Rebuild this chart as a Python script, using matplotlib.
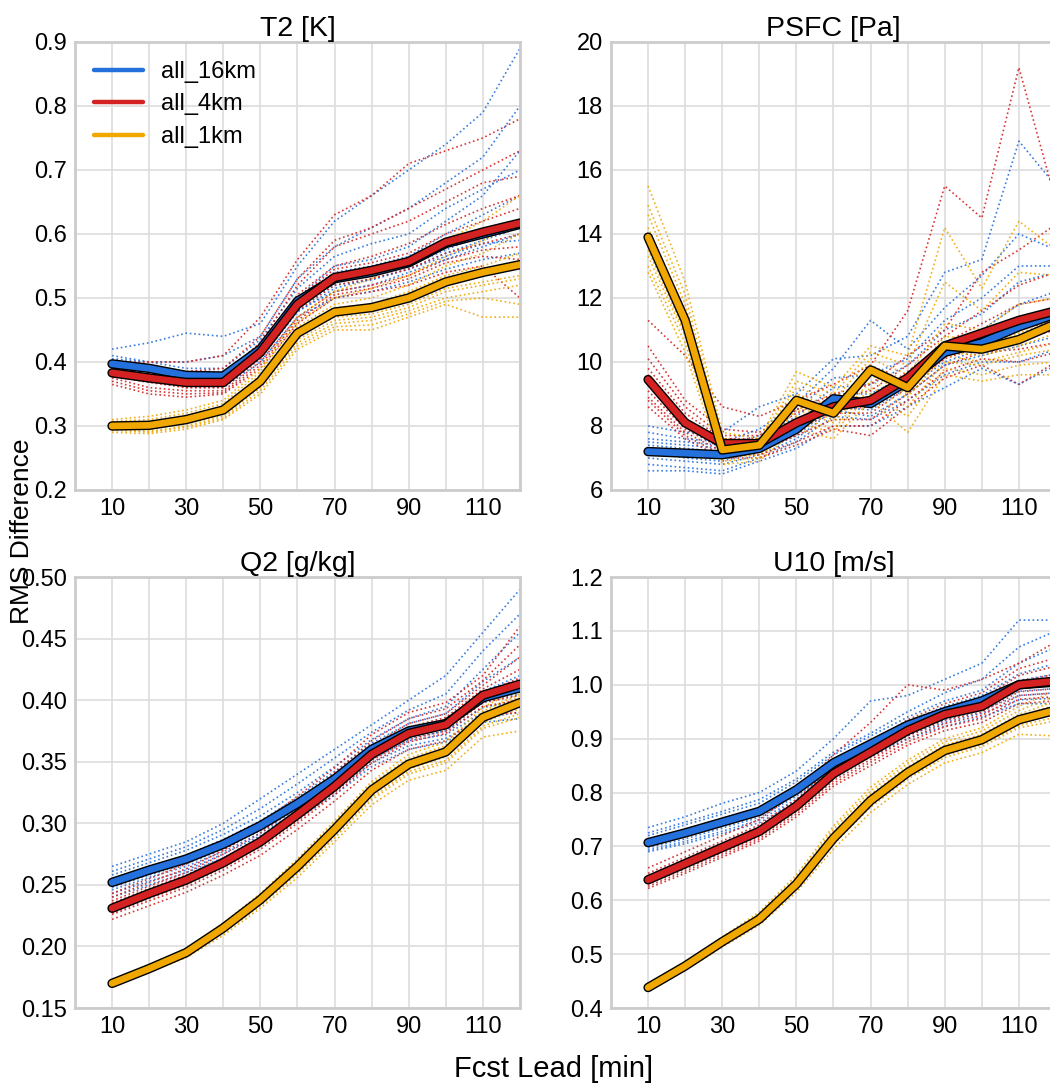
import matplotlib
matplotlib.use("Agg")
import matplotlib.pyplot as plt
import matplotlib.patheffects as pe

plt.rcParams['font.family'] = ['Liberation Sans', 'DejaVu Sans']

lead = [10, 20, 30, 40, 50, 60, 70, 80, 90, 100, 110, 120]
runs = ['all_16km', 'all_4km', 'all_1km']
colors = ['#2470dc', '#d42222', '#f0a800']

# ---- T2 [K] ----
t2_mean_16 = [0.397, 0.390, 0.379, 0.378, 0.420, 0.495, 0.530, 0.540, 0.555, 0.585, 0.600, 0.615]
t2_mean_4 = [0.383, 0.375, 0.368, 0.368, 0.415, 0.490, 0.532, 0.543, 0.557, 0.587, 0.603, 0.617]
t2_mean_1 = [0.300, 0.301, 0.310, 0.325, 0.370, 0.445, 0.478, 0.485, 0.500, 0.525, 0.540, 0.552]
t2_mem_16 = [
    [0.42, 0.43, 0.445, 0.44, 0.46, 0.55, 0.62, 0.66, 0.70, 0.74, 0.79, 0.89],
    [0.41, 0.40, 0.40, 0.41, 0.44, 0.53, 0.58, 0.61, 0.64, 0.68, 0.72, 0.80],
    [0.40, 0.39, 0.38, 0.38, 0.43, 0.50, 0.55, 0.56, 0.58, 0.62, 0.66, 0.73],
    [0.395, 0.385, 0.375, 0.375, 0.415, 0.49, 0.525, 0.535, 0.55, 0.575, 0.60, 0.62],
    [0.39, 0.38, 0.37, 0.37, 0.41, 0.48, 0.51, 0.52, 0.54, 0.56, 0.58, 0.60],
    [0.38, 0.375, 0.365, 0.36, 0.40, 0.47, 0.50, 0.51, 0.525, 0.545, 0.56, 0.57],
    [0.40, 0.395, 0.385, 0.385, 0.425, 0.50, 0.54, 0.55, 0.565, 0.60, 0.63, 0.66],
    [0.385, 0.378, 0.37, 0.368, 0.405, 0.478, 0.515, 0.53, 0.545, 0.57, 0.59, 0.61],
    [0.405, 0.40, 0.39, 0.39, 0.435, 0.515, 0.565, 0.585, 0.60, 0.64, 0.67, 0.70],
    [0.392, 0.385, 0.372, 0.372, 0.412, 0.485, 0.52, 0.528, 0.545, 0.565, 0.585, 0.59],
]
t2_mem_4 = [
    [0.40, 0.40, 0.40, 0.41, 0.47, 0.56, 0.63, 0.66, 0.71, 0.73, 0.75, 0.78],
    [0.39, 0.385, 0.38, 0.38, 0.43, 0.52, 0.58, 0.60, 0.62, 0.65, 0.68, 0.69],
    [0.385, 0.375, 0.37, 0.37, 0.42, 0.50, 0.545, 0.555, 0.57, 0.60, 0.62, 0.64],
    [0.38, 0.37, 0.36, 0.36, 0.41, 0.485, 0.525, 0.535, 0.55, 0.58, 0.60, 0.61],
    [0.375, 0.36, 0.355, 0.355, 0.40, 0.47, 0.51, 0.52, 0.535, 0.56, 0.575, 0.58],
    [0.365, 0.35, 0.345, 0.35, 0.39, 0.46, 0.50, 0.51, 0.52, 0.54, 0.55, 0.50],
    [0.39, 0.38, 0.375, 0.375, 0.425, 0.505, 0.55, 0.565, 0.585, 0.615, 0.64, 0.66],
    [0.378, 0.368, 0.36, 0.36, 0.405, 0.48, 0.52, 0.53, 0.545, 0.57, 0.585, 0.60],
    [0.37, 0.355, 0.35, 0.352, 0.395, 0.465, 0.505, 0.515, 0.53, 0.555, 0.565, 0.56],
    [0.395, 0.39, 0.385, 0.39, 0.44, 0.53, 0.59, 0.61, 0.64, 0.67, 0.70, 0.73],
]
t2_mem_1 = [
    [0.31, 0.315, 0.325, 0.34, 0.39, 0.47, 0.51, 0.53, 0.56, 0.59, 0.62, 0.66],
    [0.305, 0.305, 0.315, 0.33, 0.38, 0.455, 0.49, 0.50, 0.52, 0.55, 0.57, 0.60],
    [0.30, 0.30, 0.31, 0.325, 0.37, 0.445, 0.48, 0.485, 0.50, 0.525, 0.54, 0.555],
    [0.298, 0.298, 0.305, 0.32, 0.365, 0.44, 0.47, 0.475, 0.49, 0.515, 0.525, 0.535],
    [0.295, 0.29, 0.30, 0.315, 0.36, 0.43, 0.46, 0.465, 0.48, 0.50, 0.51, 0.52],
    [0.29, 0.288, 0.295, 0.31, 0.35, 0.42, 0.45, 0.45, 0.47, 0.49, 0.47, 0.47],
    [0.302, 0.302, 0.312, 0.328, 0.375, 0.45, 0.485, 0.49, 0.51, 0.535, 0.55, 0.57],
    [0.297, 0.295, 0.303, 0.318, 0.362, 0.435, 0.465, 0.47, 0.485, 0.51, 0.52, 0.53],
    [0.307, 0.31, 0.32, 0.335, 0.385, 0.462, 0.50, 0.515, 0.535, 0.565, 0.59, 0.62],
    [0.293, 0.292, 0.298, 0.312, 0.355, 0.425, 0.455, 0.458, 0.475, 0.495, 0.50, 0.49],
]

# ---- PSFC [Pa] ----
ps_mean_16 = [7.2, 7.15, 7.1, 7.3, 7.9, 8.85, 8.7, 9.4, 10.3, 10.6, 11.1, 11.5]
ps_mean_4 = [9.45, 8.1, 7.45, 7.45, 8.1, 8.6, 8.8, 9.5, 10.5, 10.9, 11.3, 11.6]
ps_mean_1 = [13.9, 11.3, 7.25, 7.4, 8.8, 8.4, 9.75, 9.2, 10.5, 10.4, 10.7, 11.2]
ps_mem_16 = [
    [6.6, 6.6, 6.5, 6.9, 7.3, 8.0, 8.0, 8.6, 9.2, 9.8, 9.3, 9.9],
    [7.0, 6.9, 6.8, 7.1, 7.6, 8.5, 8.3, 9.0, 9.9, 10.2, 10.5, 10.8],
    [7.3, 7.2, 7.1, 7.3, 7.9, 8.8, 8.7, 9.4, 10.3, 10.7, 11.3, 11.6],
    [7.5, 7.4, 7.3, 7.6, 8.3, 9.2, 9.3, 9.9, 11.0, 11.5, 12.5, 12.8],
    [7.8, 7.6, 7.5, 7.9, 8.7, 9.8, 11.3, 10.4, 11.7, 12.7, 14.0, 13.5],
    [8.0, 7.8, 7.8, 8.6, 9.0, 10.1, 10.2, 10.8, 12.8, 13.2, 16.9, 15.5],
    [7.2, 7.0, 6.9, 7.2, 7.7, 8.6, 8.5, 9.2, 10.0, 10.4, 10.8, 11.2],
    [7.4, 7.3, 7.2, 7.4, 8.1, 9.0, 9.0, 9.6, 10.6, 11.0, 11.8, 12.2],
    [6.8, 6.7, 6.6, 7.0, 7.5, 8.3, 8.2, 8.8, 9.6, 10.0, 10.0, 10.4],
    [7.6, 7.5, 7.4, 7.7, 8.5, 9.5, 9.6, 10.1, 11.3, 12.0, 13.0, 13.0],
]
ps_mem_4 = [
    [11.3, 10.2, 8.6, 8.3, 8.8, 9.3, 9.9, 11.6, 15.5, 14.5, 19.2, 15.0],
    [10.5, 8.8, 7.9, 7.8, 8.5, 9.0, 9.3, 10.2, 11.0, 12.8, 13.5, 14.3],
    [9.8, 8.4, 7.6, 7.6, 8.2, 8.7, 8.9, 9.7, 10.6, 11.2, 11.8, 12.0],
    [9.3, 8.0, 7.4, 7.4, 8.0, 8.5, 8.6, 9.3, 10.3, 10.7, 11.0, 11.3],
    [8.9, 7.8, 7.2, 7.2, 7.7, 8.2, 8.2, 9.0, 9.9, 10.3, 10.4, 10.6],
    [8.6, 7.6, 7.0, 7.0, 7.4, 7.9, 7.7, 8.6, 9.5, 9.9, 9.3, 10.0],
    [9.6, 8.2, 7.5, 7.5, 8.1, 8.6, 8.8, 9.5, 10.5, 11.0, 11.4, 11.7],
    [9.1, 7.9, 7.3, 7.3, 7.9, 8.4, 8.4, 9.2, 10.1, 10.5, 10.7, 11.0],
    [10.1, 8.6, 7.7, 7.7, 8.4, 8.9, 9.1, 9.9, 10.8, 11.6, 12.4, 12.8],
    [8.8, 7.7, 7.1, 7.1, 7.5, 8.0, 8.0, 8.8, 9.7, 10.1, 10.0, 10.3],
]
ps_mem_1 = [
    [15.5, 12.5, 7.8, 7.6, 9.7, 9.2, 10.5, 10.2, 14.2, 12.3, 14.4, 13.5],
    [14.6, 11.8, 7.5, 7.5, 9.2, 8.8, 10.1, 9.6, 11.2, 11.0, 11.8, 12.0],
    [14.0, 11.4, 7.3, 7.4, 8.9, 8.5, 9.8, 9.3, 10.6, 10.5, 10.9, 11.3],
    [13.7, 11.1, 7.2, 7.3, 8.6, 8.2, 9.6, 9.0, 10.3, 10.2, 10.5, 10.9],
    [13.3, 10.8, 7.0, 7.1, 8.3, 7.9, 9.2, 8.6, 10.0, 9.9, 10.2, 10.4],
    [12.8, 10.3, 6.8, 6.9, 7.9, 7.6, 8.8, 7.8, 9.6, 9.4, 9.6, 9.6],
    [14.2, 11.5, 7.4, 7.45, 9.0, 8.6, 9.9, 9.4, 10.8, 10.7, 11.2, 11.6],
    [13.5, 10.9, 7.1, 7.2, 8.5, 8.1, 9.4, 8.9, 10.2, 10.0, 10.3, 10.6],
    [14.9, 12.1, 7.6, 7.55, 9.4, 9.0, 10.3, 9.9, 12.5, 11.6, 12.8, 12.7],
    [13.0, 10.6, 6.9, 7.0, 8.1, 7.8, 9.0, 8.3, 9.8, 9.6, 9.9, 10.0],
]

# ---- Q2 [g/kg] ----
q2_mean_16 = [0.252, 0.262, 0.271, 0.283, 0.298, 0.316, 0.336, 0.360, 0.375, 0.381, 0.402, 0.410]
q2_mean_4 = [0.231, 0.243, 0.254, 0.268, 0.285, 0.307, 0.330, 0.356, 0.373, 0.380, 0.404, 0.413]
q2_mean_1 = [0.170, 0.182, 0.195, 0.215, 0.238, 0.265, 0.295, 0.327, 0.348, 0.358, 0.386, 0.398]
q2_mem_16 = [
    [0.265, 0.275, 0.285, 0.30, 0.32, 0.34, 0.36, 0.38, 0.40, 0.42, 0.455, 0.49],
    [0.258, 0.268, 0.278, 0.291, 0.306, 0.325, 0.346, 0.368, 0.385, 0.395, 0.425, 0.455],
    [0.253, 0.263, 0.272, 0.285, 0.30, 0.318, 0.338, 0.362, 0.377, 0.384, 0.407, 0.42],
    [0.25, 0.26, 0.269, 0.281, 0.296, 0.313, 0.333, 0.357, 0.372, 0.378, 0.398, 0.405],
    [0.246, 0.256, 0.265, 0.277, 0.292, 0.309, 0.329, 0.352, 0.367, 0.372, 0.39, 0.395],
    [0.24, 0.25, 0.26, 0.272, 0.287, 0.304, 0.323, 0.346, 0.36, 0.366, 0.382, 0.385],
    [0.255, 0.265, 0.274, 0.287, 0.302, 0.321, 0.342, 0.365, 0.381, 0.389, 0.415, 0.435],
    [0.248, 0.258, 0.267, 0.279, 0.294, 0.311, 0.331, 0.355, 0.369, 0.375, 0.394, 0.40],
    [0.261, 0.271, 0.281, 0.295, 0.312, 0.332, 0.353, 0.374, 0.392, 0.405, 0.44, 0.47],
    [0.243, 0.253, 0.262, 0.275, 0.29, 0.307, 0.326, 0.349, 0.363, 0.369, 0.386, 0.39],
]
q2_mem_4 = [
    [0.243, 0.255, 0.267, 0.282, 0.30, 0.322, 0.345, 0.372, 0.39, 0.398, 0.42, 0.46],
    [0.237, 0.249, 0.26, 0.275, 0.292, 0.314, 0.337, 0.363, 0.381, 0.389, 0.412, 0.435],
    [0.233, 0.245, 0.256, 0.27, 0.287, 0.309, 0.332, 0.358, 0.376, 0.383, 0.406, 0.418],
    [0.229, 0.241, 0.252, 0.266, 0.283, 0.305, 0.328, 0.354, 0.371, 0.378, 0.401, 0.408],
    [0.226, 0.237, 0.248, 0.262, 0.279, 0.30, 0.323, 0.349, 0.366, 0.373, 0.395, 0.40],
    [0.222, 0.233, 0.244, 0.258, 0.274, 0.295, 0.318, 0.343, 0.36, 0.367, 0.388, 0.39],
    [0.235, 0.247, 0.258, 0.272, 0.289, 0.311, 0.334, 0.36, 0.378, 0.386, 0.409, 0.425],
    [0.231, 0.243, 0.254, 0.268, 0.285, 0.307, 0.33, 0.356, 0.373, 0.38, 0.403, 0.412],
    [0.227, 0.239, 0.25, 0.264, 0.281, 0.302, 0.325, 0.351, 0.368, 0.375, 0.398, 0.404],
    [0.24, 0.252, 0.263, 0.278, 0.296, 0.318, 0.341, 0.367, 0.385, 0.393, 0.416, 0.445],
]
q2_mem_1 = [
    [0.172, 0.184, 0.198, 0.219, 0.243, 0.271, 0.302, 0.334, 0.356, 0.366, 0.394, 0.41],
    [0.171, 0.183, 0.196, 0.217, 0.24, 0.268, 0.298, 0.33, 0.351, 0.361, 0.389, 0.403],
    [0.17, 0.182, 0.195, 0.215, 0.238, 0.265, 0.295, 0.327, 0.348, 0.358, 0.386, 0.398],
    [0.169, 0.181, 0.194, 0.213, 0.236, 0.262, 0.292, 0.323, 0.344, 0.354, 0.382, 0.393],
    [0.168, 0.18, 0.192, 0.211, 0.233, 0.259, 0.288, 0.319, 0.34, 0.349, 0.377, 0.386],
    [0.167, 0.179, 0.191, 0.209, 0.231, 0.256, 0.285, 0.315, 0.335, 0.343, 0.37, 0.375],
    [0.1705, 0.1825, 0.1955, 0.216, 0.239, 0.266, 0.297, 0.329, 0.35, 0.36, 0.388, 0.40],
    [0.1695, 0.1815, 0.1945, 0.214, 0.237, 0.263, 0.293, 0.325, 0.346, 0.356, 0.384, 0.395],
    [0.1685, 0.1805, 0.193, 0.212, 0.234, 0.26, 0.29, 0.321, 0.342, 0.351, 0.379, 0.389],
    [0.1715, 0.1835, 0.197, 0.218, 0.242, 0.27, 0.30, 0.332, 0.353, 0.363, 0.391, 0.405],
]

# ---- U10 [m/s] ----
u10_mean_16 = [0.707, 0.725, 0.745, 0.765, 0.805, 0.855, 0.890, 0.925, 0.950, 0.970, 1.000, 1.005]
u10_mean_4 = [0.638, 0.668, 0.698, 0.728, 0.775, 0.835, 0.875, 0.915, 0.945, 0.960, 1.000, 1.007]
u10_mean_1 = [0.438, 0.478, 0.523, 0.565, 0.630, 0.715, 0.785, 0.837, 0.878, 0.898, 0.935, 0.953]
u10_mem_16 = [
    [0.735, 0.755, 0.78, 0.80, 0.84, 0.90, 0.97, 0.98, 1.01, 1.04, 1.12, 1.12],
    [0.725, 0.745, 0.765, 0.787, 0.825, 0.875, 0.91, 0.95, 0.985, 1.01, 1.07, 1.10],
    [0.713, 0.732, 0.752, 0.772, 0.812, 0.862, 0.897, 0.932, 0.96, 0.98, 1.02, 1.04],
    [0.705, 0.723, 0.743, 0.763, 0.803, 0.853, 0.888, 0.922, 0.947, 0.966, 0.995, 1.0],
    [0.697, 0.714, 0.734, 0.754, 0.793, 0.843, 0.878, 0.912, 0.935, 0.953, 0.98, 0.985],
    [0.69, 0.705, 0.724, 0.744, 0.782, 0.832, 0.866, 0.90, 0.923, 0.94, 0.965, 0.965],
    [0.71, 0.728, 0.748, 0.768, 0.808, 0.858, 0.893, 0.927, 0.953, 0.973, 1.008, 1.02],
    [0.701, 0.718, 0.738, 0.758, 0.798, 0.848, 0.883, 0.917, 0.941, 0.96, 0.988, 0.993],
    [0.72, 0.74, 0.76, 0.78, 0.82, 0.87, 0.905, 0.94, 0.97, 0.99, 1.04, 1.07],
    [0.693, 0.709, 0.728, 0.749, 0.787, 0.837, 0.872, 0.906, 0.93, 0.947, 0.972, 0.975],
]
u10_mem_4 = [
    [0.66, 0.69, 0.72, 0.75, 0.80, 0.87, 0.93, 1.0, 0.99, 1.01, 1.04, 1.08],
    [0.65, 0.68, 0.71, 0.74, 0.787, 0.85, 0.893, 0.935, 0.965, 0.985, 1.03, 1.05],
    [0.642, 0.672, 0.702, 0.732, 0.779, 0.84, 0.88, 0.92, 0.95, 0.966, 1.006, 1.02],
    [0.636, 0.665, 0.695, 0.725, 0.772, 0.831, 0.871, 0.91, 0.94, 0.955, 0.993, 1.0],
    [0.63, 0.658, 0.688, 0.718, 0.764, 0.822, 0.861, 0.90, 0.928, 0.943, 0.98, 0.985],
    [0.622, 0.65, 0.68, 0.71, 0.755, 0.812, 0.85, 0.888, 0.915, 0.93, 0.965, 0.97],
    [0.645, 0.676, 0.706, 0.736, 0.783, 0.845, 0.886, 0.927, 0.957, 0.975, 1.017, 1.035],
    [0.639, 0.668, 0.698, 0.728, 0.775, 0.835, 0.875, 0.915, 0.945, 0.96, 1.0, 1.01],
    [0.633, 0.662, 0.692, 0.722, 0.768, 0.826, 0.866, 0.905, 0.934, 0.949, 0.987, 0.993],
    [0.626, 0.654, 0.684, 0.714, 0.76, 0.817, 0.856, 0.894, 0.922, 0.937, 0.973, 0.978],
]
u10_mem_1 = [
    [0.443, 0.485, 0.532, 0.578, 0.647, 0.738, 0.81, 0.86, 0.9, 0.92, 0.96, 0.99],
    [0.441, 0.482, 0.527, 0.571, 0.638, 0.726, 0.797, 0.848, 0.888, 0.908, 0.945, 0.97],
    [0.439, 0.479, 0.524, 0.566, 0.632, 0.718, 0.788, 0.84, 0.88, 0.9, 0.937, 0.957],
    [0.437, 0.476, 0.521, 0.563, 0.627, 0.711, 0.781, 0.833, 0.873, 0.893, 0.929, 0.946],
    [0.435, 0.473, 0.517, 0.559, 0.622, 0.704, 0.773, 0.825, 0.865, 0.885, 0.92, 0.933],
    [0.433, 0.47, 0.513, 0.554, 0.615, 0.695, 0.763, 0.815, 0.855, 0.874, 0.908, 0.905],
    [0.44, 0.48, 0.526, 0.568, 0.635, 0.722, 0.792, 0.844, 0.884, 0.904, 0.941, 0.963],
    [0.438, 0.477, 0.522, 0.564, 0.629, 0.714, 0.784, 0.836, 0.876, 0.896, 0.932, 0.95],
    [0.436, 0.474, 0.519, 0.561, 0.624, 0.707, 0.777, 0.829, 0.869, 0.889, 0.924, 0.94],
    [0.442, 0.483, 0.529, 0.574, 0.642, 0.732, 0.803, 0.854, 0.894, 0.914, 0.952, 0.98],
]

panels = [
    ('T2 [K]', [t2_mem_16, t2_mem_4, t2_mem_1], [t2_mean_16, t2_mean_4, t2_mean_1],
     (0.2, 0.9), [0.2, 0.3, 0.4, 0.5, 0.6, 0.7, 0.8, 0.9], '%.1f'),
    ('PSFC [Pa]', [ps_mem_16, ps_mem_4, ps_mem_1], [ps_mean_16, ps_mean_4, ps_mean_1],
     (6, 20), [6, 8, 10, 12, 14, 16, 18, 20], '%d'),
    ('Q2 [g/kg]', [q2_mem_16, q2_mem_4, q2_mem_1], [q2_mean_16, q2_mean_4, q2_mean_1],
     (0.15, 0.50), [0.15, 0.20, 0.25, 0.30, 0.35, 0.40, 0.45, 0.50], '%.2f'),
    ('U10 [m/s]', [u10_mem_16, u10_mem_4, u10_mem_1], [u10_mean_16, u10_mean_4, u10_mean_1],
     (0.4, 1.2), [0.4, 0.5, 0.6, 0.7, 0.8, 0.9, 1.0, 1.1, 1.2], '%.1f'),
]

# axes boxes in figure fractions; the right column runs past the figure edge
boxes = [
    [0.0714, 0.548, 0.4238, 0.4133],
    [0.5819, 0.548, 0.4238, 0.4133],
    [0.0714, 0.0701, 0.4238, 0.3976],
    [0.5819, 0.0701, 0.4238, 0.3976],
]

fig = plt.figure(figsize=(10.5, 10.84), dpi=100)

for box, (title, members, means, ylim, yticks, fmt) in zip(boxes, panels):
    ax = fig.add_axes(box)
    ax.set_facecolor('white')
    for mem, c in zip(members, colors):
        for m in mem:
            ax.plot(lead, m, linestyle=':', color=c, lw=1.2, alpha=0.9, zorder=2)
    for mean, c, name in zip(means, colors, runs):
        ax.plot(lead, mean, color=c, lw=4.8, solid_capstyle='round',
                solid_joinstyle='round', zorder=3, label=name,
                path_effects=[pe.Stroke(linewidth=6.8, foreground='black'), pe.Normal()])
    ax.set_title(title, fontsize=20.5, pad=4)
    ax.set_xlim(0, 120)
    ax.set_ylim(*ylim)
    ax.set_xticks(lead)
    ax.set_xticklabels([str(v) if v % 20 == 10 else '' for v in lead])
    ax.set_yticks(yticks)
    ax.set_yticklabels([fmt % v for v in yticks])
    ax.tick_params(length=0, labelsize=17, pad=6)
    ax.grid(True, color='#dddddd', lw=1.2, zorder=0)
    ax.set_axisbelow(True)
    for s in ax.spines.values():
        s.set_color('#cccccc')
        s.set_linewidth(2)
    if title == 'T2 [K]':
        leg = ax.legend(loc='upper left', frameon=False, fontsize=17,
                        handlelength=2.1, handletextpad=0.75, labelspacing=0.45,
                        borderaxespad=0.5, borderpad=0.3)
        for h in leg.get_lines():
            h.set_path_effects([])
            h.set_linewidth(3.2)

fig.text(0.021, 0.51, 'RMS Difference', rotation=90, fontsize=19, ha='center', va='center')
fig.text(0.527, 0.001, 'Fcst Lead [min]', fontsize=21, ha='center', va='bottom')

fig.savefig('out.png', dpi=100)
